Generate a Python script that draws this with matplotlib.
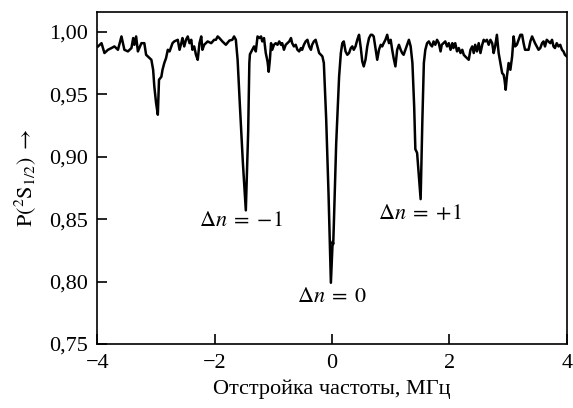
import matplotlib
matplotlib.use("Agg")
import matplotlib.pyplot as plt
import matplotlib.ticker as ticker
from matplotlib import rcParams

rcParams.update({
    "font.family": "serif",
    "font.serif": ["Liberation Serif", "DejaVu Serif"],
    "mathtext.fontset": "stix",
    "font.size": 16,
})

# frequency detuning, MHz
detuning = [
    -3.99, -3.93, -3.88, -3.82, -3.76, -3.71, -3.65, -3.59, -3.54, -3.48,
    -3.42, -3.39, -3.37, -3.34, -3.31, -3.25, -3.20, -3.17, -3.14, -3.08,
    -3.05, -3.03, -3.00, -2.97, -2.95, -2.91, -2.89, -2.86, -2.83, -2.80,
    -2.77, -2.74, -2.72, -2.69, -2.63, -2.60, -2.57, -2.55, -2.52, -2.49,
    -2.46, -2.43, -2.40, -2.38, -2.35, -2.32, -2.29, -2.26, -2.23, -2.21,
    -2.18, -2.12, -2.06, -2.01, -1.98, -1.95, -1.92, -1.87, -1.81, -1.75,
    -1.70, -1.67, -1.64, -1.61, -1.57, -1.52, -1.47, -1.43, -1.41, -1.40,
    -1.36, -1.33, -1.30, -1.27, -1.24, -1.21, -1.19, -1.16, -1.13, -1.10,
    -1.08, -1.06, -1.04, -1.02, -0.99, -0.96, -0.93, -0.90, -0.87, -0.85,
    -0.82, -0.79, -0.73, -0.70, -0.68, -0.65, -0.62, -0.59, -0.56, -0.53,
    -0.51, -0.48, -0.45, -0.42, -0.39, -0.36, -0.34, -0.31, -0.28, -0.25,
    -0.22, -0.19, -0.165, -0.14, -0.10, -0.06, -0.02, 0.01, 0.02, 0.03,
    0.07, 0.12, 0.15, 0.175, 0.20, 0.23, 0.26, 0.29, 0.32, 0.345,
    0.37, 0.40, 0.43, 0.46, 0.49, 0.515, 0.54, 0.57, 0.60, 0.63,
    0.66, 0.685, 0.71, 0.74, 0.77, 0.80, 0.83, 0.855, 0.88, 0.91,
    0.94, 0.97, 1.00, 1.025, 1.05, 1.08, 1.11, 1.14, 1.17, 1.195,
    1.22, 1.25, 1.28, 1.31, 1.34, 1.37, 1.40, 1.42, 1.45, 1.51,
    1.54, 1.565, 1.59, 1.62, 1.65, 1.68, 1.705, 1.73, 1.76, 1.79,
    1.82, 1.85, 1.87, 1.90, 1.93, 1.96, 1.99, 2.02, 2.05, 2.07,
    2.10, 2.13, 2.16, 2.19, 2.22, 2.245, 2.27, 2.30, 2.33, 2.36,
    2.39, 2.415, 2.44, 2.47, 2.50, 2.53, 2.56, 2.585, 2.61, 2.64,
    2.67, 2.70, 2.73, 2.755, 2.78, 2.81, 2.84, 2.87, 2.90, 2.925,
    2.94, 2.96, 2.98, 3.01, 3.04, 3.07, 3.095, 3.12, 3.15, 3.18,
    3.21, 3.24, 3.265, 3.29, 3.32, 3.35, 3.38, 3.41, 3.435, 3.46,
    3.49, 3.52, 3.55, 3.58, 3.605, 3.63, 3.66, 3.69, 3.72, 3.75,
    3.775, 3.80, 3.83, 3.86, 3.89, 3.92, 3.945, 3.97, 4.00,
]

# population of the 2S1/2 state
population = [
    0.9883, 0.9909, 0.9830, 0.9856, 0.9870, 0.9883, 0.9856, 0.9963, 0.9856, 0.9843,
    0.9870, 0.9950, 0.9896, 0.9963, 0.9843, 0.9909, 0.9909, 0.9816, 0.9803, 0.9776,
    0.9696, 0.9563, 0.9430, 0.9336, 0.9616, 0.9640, 0.9696, 0.9750, 0.9789, 0.9856,
    0.9843, 0.9883, 0.9909, 0.9923, 0.9936, 0.9856, 0.9909, 0.9950, 0.9883, 0.9936,
    0.9963, 0.9909, 0.9936, 0.9856, 0.9883, 0.9816, 0.9776, 0.9909, 0.9963, 0.9856,
    0.9896, 0.9923, 0.9909, 0.9936, 0.9936, 0.9963, 0.9950, 0.9923, 0.9896, 0.9930,
    0.9936, 0.9963, 0.9936, 0.9776, 0.9400, 0.8950, 0.8570, 0.9200, 0.9750, 0.9820,
    0.9856, 0.9883, 0.9843, 0.9963, 0.9950, 0.9963, 0.9923, 0.9950, 0.9830, 0.9763,
    0.9680, 0.9776, 0.9909, 0.9856, 0.9896, 0.9909, 0.9896, 0.9923, 0.9896, 0.9909,
    0.9856, 0.9896, 0.9923, 0.9950, 0.9909, 0.9883, 0.9896, 0.9856, 0.9843, 0.9870,
    0.9856, 0.9896, 0.9923, 0.9936, 0.9883, 0.9856, 0.9896, 0.9923, 0.9936, 0.9883,
    0.9830, 0.9816, 0.9803, 0.9750, 0.9300, 0.8700, 0.7990, 0.8320, 0.8300, 0.8450,
    0.9100, 0.9640, 0.9830, 0.9909, 0.9923, 0.9843, 0.9816, 0.9830, 0.9870, 0.9883,
    0.9856, 0.9883, 0.9936, 0.9976, 0.9870, 0.9763, 0.9723, 0.9776, 0.9883, 0.9950,
    0.9976, 0.9976, 0.9963, 0.9870, 0.9776, 0.9856, 0.9896, 0.9883, 0.9909, 0.9936,
    0.9976, 0.9909, 0.9936, 0.9856, 0.9789, 0.9723, 0.9856, 0.9896, 0.9856, 0.9830,
    0.9816, 0.9856, 0.9896, 0.9936, 0.9883, 0.9750, 0.9400, 0.9060, 0.9030, 0.8660,
    0.9300, 0.9750, 0.9856, 0.9909, 0.9923, 0.9896, 0.9883, 0.9923, 0.9896, 0.9936,
    0.9909, 0.9843, 0.9896, 0.9909, 0.9923, 0.9883, 0.9909, 0.9856, 0.9909, 0.9870,
    0.9909, 0.9843, 0.9870, 0.9830, 0.9856, 0.9816, 0.9803, 0.9789, 0.9776, 0.9856,
    0.9883, 0.9830, 0.9896, 0.9843, 0.9909, 0.9830, 0.9896, 0.9936, 0.9923, 0.9936,
    0.9896, 0.9936, 0.9909, 0.9830, 0.9883, 0.9976, 0.9830, 0.9750, 0.9669, 0.9656,
    0.9616, 0.9536, 0.9640, 0.9750, 0.9696, 0.9803, 0.9963, 0.9883, 0.9896, 0.9936,
    0.9976, 0.9976, 0.9909, 0.9856, 0.9856, 0.9856, 0.9923, 0.9963, 0.9936, 0.9909,
    0.9883, 0.9856, 0.9870, 0.9909, 0.9923, 0.9883, 0.9936, 0.9923, 0.9909, 0.9936,
    0.9883, 0.9870, 0.9909, 0.9883, 0.9896, 0.9856, 0.9843, 0.9816, 0.9803,
]

peak_labels = [r"$\Delta n\;=\;{-}1$", r"$\Delta n\;=\;0$", r"$\Delta n\;=\;{+}1$"]
peak_label_x = [-1.56, 0.0, 1.50]
peak_label_y = [0.848, 0.787, 0.854]

x_ticks = [-4, -2, 0, 2, 4]
y_ticks = [0.75, 0.80, 0.85, 0.90, 0.95, 1.00]

fig = plt.figure(figsize=(5.73, 4.08), dpi=100)
ax = fig.add_axes([0.170, 0.157, 0.819, 0.814])

ax.plot(detuning, population, color="black", linewidth=1.8)

for lab, lx, ly in zip(peak_labels, peak_label_x, peak_label_y):
    ax.text(lx, ly, lab, ha="center", va="center", fontsize=16)

ax.set_xlim(-4, 4)
ax.set_ylim(0.75, 1.016)
ax.set_xticks(x_ticks)
ax.set_yticks(y_ticks)
ax.yaxis.set_major_formatter(ticker.FuncFormatter(lambda v, p: ("%.2f" % v).replace(".", ",")))
ax.xaxis.set_major_formatter(ticker.FuncFormatter(lambda v, p: ("%d" % v).replace("-", "\u2212")))

for spine in ax.spines.values():
    spine.set_linewidth(1.2)
ax.tick_params(direction="in", length=7, width=1.2, labelsize=16, pad=7)

ax.set_xlabel("Отстройка частоты, МГц", fontsize=16, labelpad=5)
ax.set_ylabel(r"$\mathrm{P}(^2\mathrm{S}_{1/2})\;\rightarrow$", fontsize=16, labelpad=8)

fig.savefig("out.png", dpi=100)
